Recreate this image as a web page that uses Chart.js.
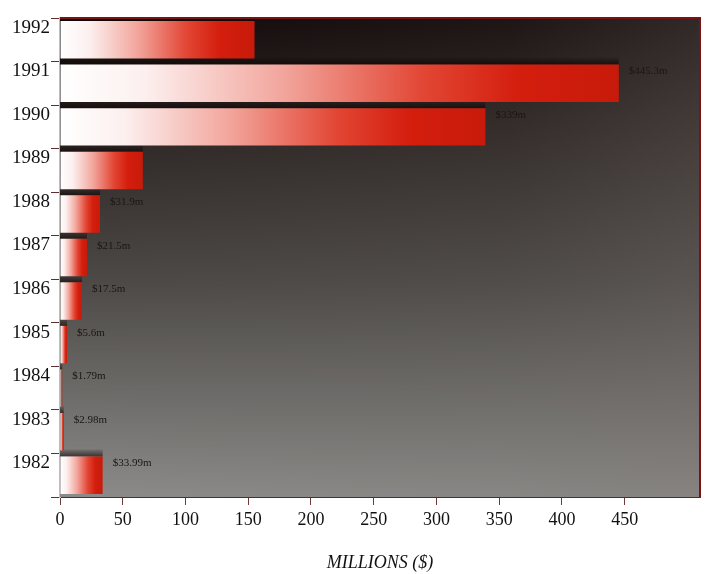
<!DOCTYPE html>
<html>
<head>
<meta charset="utf-8">
<script src="https://cdn.jsdelivr.net/npm/chart.js@4/dist/chart.umd.min.js"></script>
<style>
  html, body { margin: 0; padding: 0; background: #ffffff; }
  #wrap { width: 712px; height: 574px; position: relative; }
</style>
</head>
<body>
<div id="wrap"><canvas id="c" width="712" height="574"></canvas></div>
<script>
// Annual totals, millions of dollars
const years = ['1992', '1991', '1990', '1989', '1988', '1987', '1986', '1985', '1984', '1983', '1982'];
const amounts = [155, 445.3, 339, 66, 31.9, 21.5, 17.5, 5.6, 1.79, 2.98, 33.99];
// which bars carry a printed value
const showValue = [false, true, true, false, true, true, true, true, true, true, true];
const xTicks = [0, 50, 100, 150, 200, 250, 300, 350, 400, 450];

const SERIF = "'Liberation Serif', 'DejaVu Serif', serif";

// white-to-red fill running from the zero line to the end of each bar
function barFill(ctx) {
  const chart = ctx.chart;
  const x = chart.scales.x;
  if (!x || ctx.dataIndex === undefined) return '#d01c0c';
  const v = amounts[ctx.dataIndex];
  const x0 = x.getPixelForValue(0);
  const x1 = x.getPixelForValue(v);
  if (!isFinite(x0) || !isFinite(x1) || x1 - x0 < 1) return '#d01c0c';
  const g = chart.ctx.createLinearGradient(x0, 0, x1, 0);
  g.addColorStop(0, '#ffffff');
  g.addColorStop(0.15, '#fcf0ef');
  g.addColorStop(0.4, '#f2a59c');
  g.addColorStop(0.65, '#e24634');
  g.addColorStop(0.82, '#d41e0e');
  g.addColorStop(1, '#c81a0a');
  return g;
}

// dark plot background with a maroon frame
const plotBackground = {
  id: 'plotBackground',
  beforeDatasetsDraw(chart) {
    const { ctx, chartArea: a } = chart;
    ctx.save();
    ctx.beginPath();
    ctx.rect(a.left, a.top, a.right - a.left, a.bottom - a.top);
    ctx.clip();
    const g = ctx.createLinearGradient(0, a.top, 0, a.bottom);
    g.addColorStop(0, '#120a0a');
    g.addColorStop(0.2, '#2a2220');
    g.addColorStop(0.55, '#4c4946');
    g.addColorStop(1, '#8c8b89');
    ctx.fillStyle = g;
    ctx.fillRect(a.left, a.top, a.right - a.left, a.bottom - a.top);
    const h = ctx.createLinearGradient(a.left, 0, a.right, 0);
    h.addColorStop(0, 'rgba(90,85,80,0)');
    h.addColorStop(0.7, 'rgba(110,105,100,0.12)');
    h.addColorStop(1, 'rgba(120,112,108,0.3)');
    ctx.fillStyle = h;
    ctx.fillRect(a.left, a.top, a.right - a.left, a.bottom - a.top);
    // soft dark band just above each bar
    const meta = chart.getDatasetMeta(0);
    meta.data.forEach((bar) => {
      const top = bar.y - bar.height / 2;
      const sg = ctx.createLinearGradient(0, top - 7, 0, top);
      sg.addColorStop(0, 'rgba(10,0,0,0.1)');
      sg.addColorStop(1, 'rgba(10,0,0,0.6)');
      ctx.fillStyle = sg;
      ctx.fillRect(a.left, top - 7, bar.x - a.left, 7);
    });
    ctx.restore();
    ctx.save();
    ctx.strokeStyle = '#7a1414';
    ctx.lineWidth = 2;
    ctx.beginPath();
    ctx.moveTo(a.left, a.top);
    ctx.lineTo(a.right, a.top);
    ctx.lineTo(a.right, a.bottom);
    ctx.stroke();
    ctx.restore();
  }
};

// printed values next to the bar ends
const valueLabels = {
  id: 'valueLabels',
  afterDatasetsDraw(chart) {
    const { ctx } = chart;
    const meta = chart.getDatasetMeta(0);
    ctx.save();
    ctx.font = "11px " + SERIF;
    ctx.fillStyle = '#1a1614';
    ctx.textBaseline = 'middle';
    meta.data.forEach((bar, i) => {
      if (!showValue[i]) return;
      const top = bar.y - bar.height / 2;
      ctx.fillText('$' + amounts[i] + 'm', bar.x + 10, top + 7);
    });
    ctx.restore();
  }
};

new Chart(document.getElementById('c'), {
  type: 'bar',
  data: {
    labels: years,
    datasets: [{
      data: amounts,
      backgroundColor: barFill,
      borderWidth: 0,
      categoryPercentage: 1.0,
      barPercentage: 0.86
    }]
  },
  plugins: [plotBackground, valueLabels],
  options: {
    indexAxis: 'y',
    responsive: false,
    animation: false,
    layout: { padding: { left: 0, right: 12, top: 18, bottom: 0 } },
    plugins: { legend: { display: false }, tooltip: { enabled: false } },
    scales: {
      x: {
        min: 0,
        max: 510,
        afterBuildTicks(scale) {
          scale.ticks = xTicks.map(v => ({ value: v }));
        },
        afterFit(scale) { scale.height = 77; },
        grid: {
          drawOnChartArea: false,
          drawTicks: true,
          tickLength: 8,
          color: '#6a3a3a'
        },
        border: { display: true, color: '#7a1a1a', width: 2 },
        ticks: {
          color: '#111111',
          font: { family: SERIF, size: 18 },
          padding: 4,
          maxRotation: 0
        },
        title: {
          display: true,
          text: 'MILLIONS ($)',
          color: '#111111',
          font: { family: SERIF, size: 18, style: 'italic' },
          padding: { top: 16, bottom: 0 }
        }
      },
      y: {
        offset: true,
        afterFit(scale) { scale.width = 60; },
        grid: {
          offset: true,
          drawOnChartArea: false,
          drawTicks: true,
          tickLength: 9,
          color: '#5a3030'
        },
        border: { display: true, color: '#c8b8b8', width: 2 },
        ticks: {
          color: '#111111',
          font: { family: SERIF, size: 19 },
          padding: 1,
          labelOffset: -12
        }
      }
    }
  }
});
</script>
</body>
</html>
